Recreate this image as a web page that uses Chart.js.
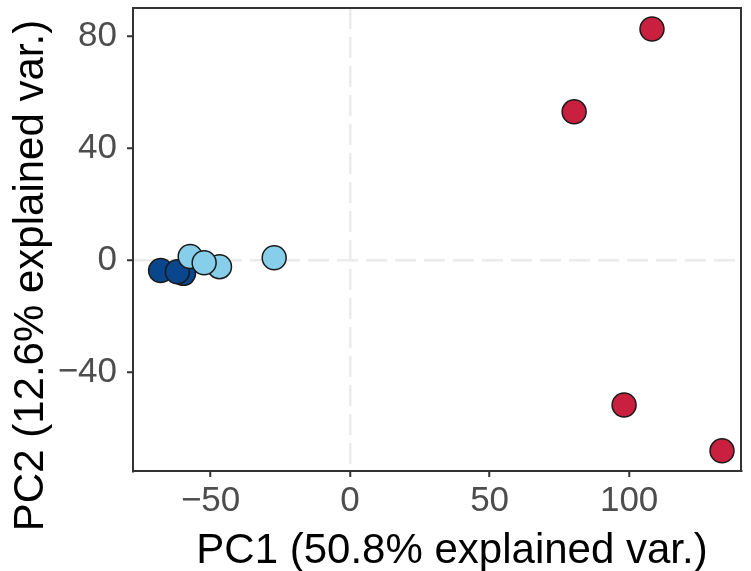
<!DOCTYPE html>
<html>
<head>
<meta charset="utf-8">
<script src="https://cdn.jsdelivr.net/npm/chart.js@4"></script>
<style>
  html, body { margin: 0; padding: 0; background: #ffffff; }
  #wrap { width: 751px; height: 571px; }
</style>
</head>
<body>
<div id="wrap"><canvas id="pca" width="751" height="571"></canvas></div>
<script>
// ===== DATOS =====
const lightPC1 = [-57.3, -46.8, -52.3, -27.2];
const lightPC2 = [1.2, -2.4, -1.0, 0.8];

const darkPC1 = [-59.7, -67.9, -61.9];
const darkPC2 = [-4.8, -3.8, -4.2];

const redPC1 = [108.2, 80.3, 98.2, 133.3];
const redPC2 = [82.5, 52.9, -51.8, -68.2];

const xTicks = [-50, 0, 50, 100];
const yTicks = [-40, 0, 40, 80];

const xTitle = "PC1 (50.8% explained var.)";
const yTitle = "PC2 (12.6% explained var.)";

// ===== COLORES =====
const colors = {
    light: "#87ceeb",
    dark: "#0a468c",
    red: "#c8203e",
    edge: "#1a1a1a",
    zero: "#ebebeb",
    tickText: "#4d4d4d",
    frame: "#333333"
};

const fontFamily = "'Liberation Sans', Arial, Helvetica, sans-serif";

const toPoints = (xs, ys) => xs.map((x, i) => ({ x: x, y: ys[i] }));

function pointStyle(color) {
    return {
        backgroundColor: color,
        borderColor: colors.edge,
        borderWidth: 1.5,
        pointRadius: 12,
        pointHoverRadius: 12
    };
}

// marco completo del panel + títulos de ejes
const panelBorder = {
    id: "panelBorder",
    afterDraw(chart) {
        const a = chart.chartArea;
        const ctx = chart.ctx;
        ctx.save();
        ctx.strokeStyle = colors.frame;
        ctx.lineWidth = 2;
        ctx.strokeRect(a.left, a.top, a.right - a.left, a.bottom - a.top);

        ctx.fillStyle = "#000000";
        ctx.font = "42px " + fontFamily;
        ctx.textAlign = "center";
        ctx.textBaseline = "alphabetic";
        // título eje x (desplazado como en el original)
        ctx.fillText(xTitle, (a.left + a.right) / 2 + 15, 563);
        // título eje y
        ctx.translate(43, (a.top + a.bottom) / 2 + 36);
        ctx.rotate(-Math.PI / 2);
        ctx.fillText(yTitle, 0, 0);
        ctx.restore();
    }
};

const zeroGrid = c => (c.tick && c.tick.value === 0) ? colors.zero : "rgba(0,0,0,0)";
const minusSign = v => String(v).replace("-", "\u2212");

function gridOpts() {
    return {
        color: zeroGrid,
        lineWidth: 2.5,
        drawTicks: true,
        tickColor: colors.frame,
        tickLength: 6,
        tickWidth: 2,
        tickBorderDash: []
    };
}

new Chart(document.getElementById("pca"), {
    type: "scatter",
    data: {
        datasets: [
            Object.assign({ label: "light", data: toPoints(lightPC1, lightPC2) }, pointStyle(colors.light)),
            Object.assign({ label: "dark", data: toPoints(darkPC1, darkPC2) }, pointStyle(colors.dark)),
            Object.assign({ label: "red", data: toPoints(redPC1, redPC2) }, pointStyle(colors.red))
        ]
    },
    options: {
        responsive: false,
        animation: false,
        layout: { autoPadding: false, padding: { top: 8, right: 10, left: 0, bottom: 0 } },
        plugins: {
            legend: { display: false },
            tooltip: { enabled: false }
        },
        scales: {
            x: {
                type: "linear",
                min: -77.8,
                max: 140.1,
                afterBuildTicks: s => { s.ticks = xTicks.map(v => ({ value: v })); },
                afterFit: s => { s.height = 100; s.paddingLeft = 0; s.paddingRight = 0; },
                grid: gridOpts(),
                border: { display: true, color: colors.frame, width: 2, dash: [21, 8] },
                ticks: {
                    color: colors.tickText,
                    font: { family: fontFamily, size: 35 },
                    padding: 3,
                    maxRotation: 0,
                    callback: minusSign
                }
            },
            y: {
                type: "linear",
                min: -75.4,
                max: 90,
                afterBuildTicks: s => { s.ticks = yTicks.map(v => ({ value: v })); },
                afterFit: s => { s.width = 133; s.paddingTop = 0; s.paddingBottom = 0; },
                grid: gridOpts(),
                border: { display: true, color: colors.frame, width: 2, dash: [21, 8] },
                ticks: {
                    color: colors.tickText,
                    font: { family: fontFamily, size: 35 },
                    padding: 10,
                    callback: minusSign
                }
            }
        }
    },
    plugins: [panelBorder]
});
</script>
</body>
</html>
